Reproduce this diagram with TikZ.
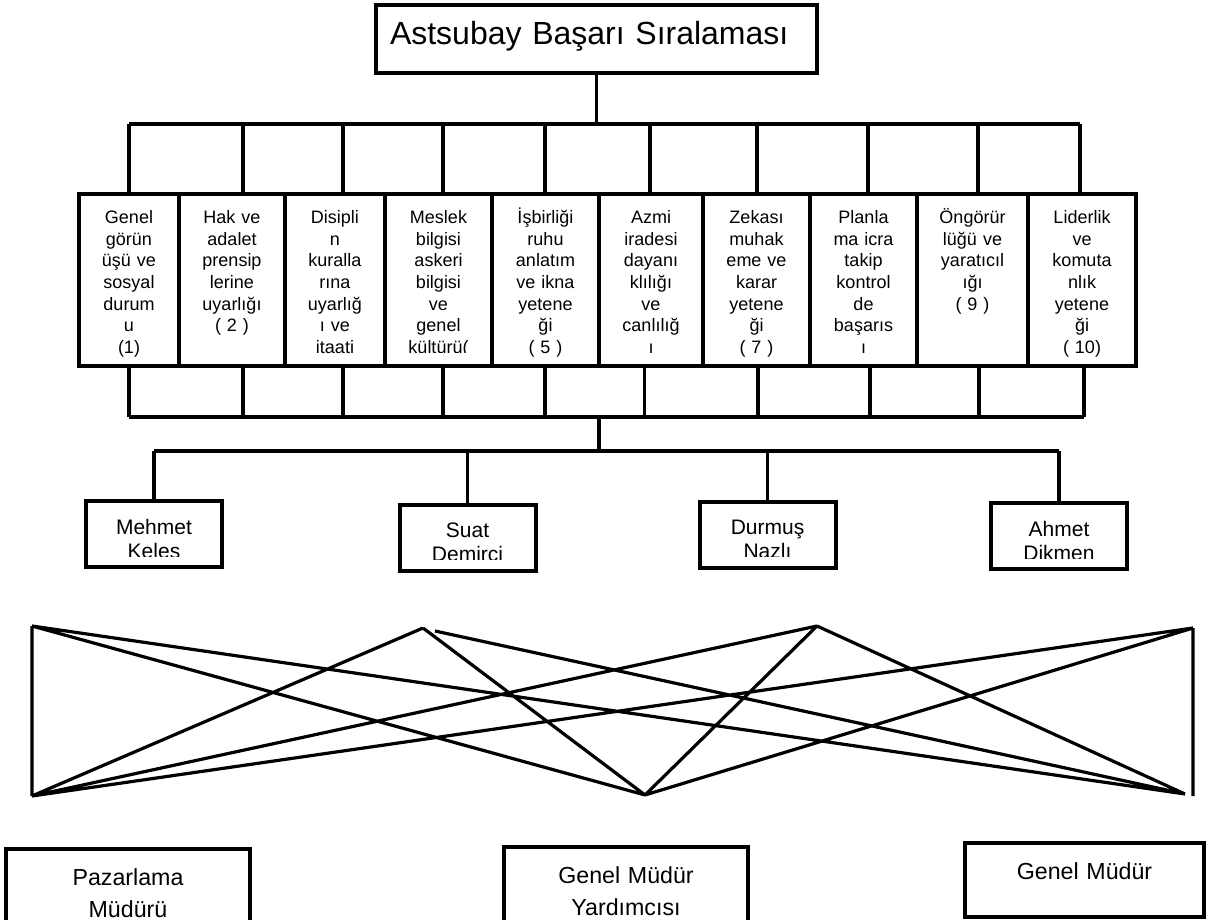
\documentclass[tikz,border=0pt]{standalone}
\usepackage{fontspec}
\setmainfont{Liberation Sans}
\begin{document}
\begin{tikzpicture}[x=0.5pt,y=-0.5pt,line width=1.6pt]
\tikzset{every node/.style={inner sep=0pt},
  crit/.style={align=center,font=\fontsize{9}{10.83}\selectfont,text height=14.75pt,text depth=71.25pt},
  critbox/.style={crit,draw},
  person/.style={align=center,font=\fontsize{10.5}{12}\selectfont,text width=68pt,text height=16.5pt,text depth=16.5pt},
  personbox/.style={person,draw,line width=2pt},
  unit/.style={draw,line width=2pt,align=center,font=\fontsize{11.6}{16}\selectfont,text height=18pt},
  cut/.style n args={3}{path picture={\clip (path picture bounding box.north west) rectangle ([yshift=#1]path picture bounding box.south east);
    \node[#2,draw=none] at (path picture bounding box.center) {#3};}}}
\useasboundingbox (0,0) rectangle (1206,920);
\clip (0,0) rectangle (1206,920);
\node[draw,line width=2pt,align=left,font=\fontsize{16}{19}\selectfont,text width=206.5pt,inner xsep=7pt,text height=20pt,text depth=14pt] (title) at (596.5,39) {Astsubay Başarı Sıralaması};
\node[critbox,text width=50pt] (k1) at (129,280) {Genel\\görün\\üşü ve\\sosyal\\durum\\u\\(1)};
\node[critbox,text width=53pt] (k2) at (232,280) {Hak ve\\adalet\\prensip\\lerine\\uyarlığı\\( 2 )};
\node[critbox,text width=50pt] (k3) at (335,280) {Disipli\\n\\kuralla\\rına\\uyarlığ\\ı ve\\itaati};
\node[critbox,text width=53.5pt,cut={7pt}{crit,text width=53.5pt}{Meslek\\bilgisi\\askeri\\bilgisi\\ve\\genel\\kültürü(}] (k4) at (438.5,280) {};
\node[critbox,text width=53.5pt] (k5) at (545.5,280) {İşbirliği\\ruhu\\anlatım\\ve ikna\\yetene\\ği\\( 5 )};
\node[critbox,text width=52pt] (k6) at (651,280) {Azmi\\iradesi\\dayanı\\klılığı\\ve\\canlılığ\\ı};
\node[critbox,text width=53.5pt] (k7) at (756.5,280) {Zekası\\muhak\\eme ve\\karar\\yetene\\ği\\( 7 )};
\node[critbox,text width=53.5pt] (k8) at (863.5,280) {Planla\\ma icra\\takip\\kontrol\\de\\başarıs\\ı};
\node[critbox,text width=55.5pt] (k9) at (972.5,280) {Öngörür\\lüğü ve\\yaratıcıl\\ığı\\( 9 )};
\node[critbox,text width=54pt] (k10) at (1082,280) {Liderlik\\ve\\komuta\\nlık\\yetene\\ği\\( 10)};
\coordinate (tbar) at (598,124);
\coordinate (bbar) at (599,417);
\coordinate (nbar) at (599,451);
\draw (title.south) -- (title.south |- tbar);
\draw (tbar -| 129,0) -- (tbar -| 1080,0);
\draw (bbar -| 129,0) -- (bbar -| 1084,0);
\foreach \i/\a/\b in {1/129/129,2/243/243,3/343/343,4/443/443,5/545/545,6/650/644.5,7/757/758,8/868/870,9/978/979,10/1080/1084}{
  \draw (k\i.north -| \a,0) -- (tbar -| \a,0);
  \draw (k\i.south -| \b,0) -- (bbar -| \b,0);}
\node[personbox,cut={5.5pt}{person}{Mehmet\\Keles}] (mehmet) at (154,534) {};
\node[personbox,cut={5.5pt}{person}{Suat\\Demirci}] (suat) at (467.5,537.5) {};
\node[personbox,cut={5.5pt}{person}{Durmuş\\Nazlı}] (durmus) at (767.5,534.5) {};
\node[personbox,cut={5.5pt}{person}{Ahmet\\Dikmen}] (ahmet) at (1059,536) {};
\draw (bbar) -- (nbar);
\draw (nbar -| mehmet.north) -- (nbar -| ahmet.north);
\foreach \n in {mehmet,suat,durmus,ahmet}
  \draw (\n.north) -- (\n.north |- nbar);
\coordinate (l1) at (32,626);
\coordinate (l2) at (32,796);
\coordinate (m1) at (423,628);
\coordinate (m2) at (435,631);
\coordinate (m3) at (817,626);
\coordinate (d) at (645,795);
\coordinate (r1) at (1193,628);
\coordinate (r2) at (1193,796);
\coordinate (r3) at (1185,794);
\draw (l1) -- (l2) (l1) -- (r3) (l1) -- (d) (l2) -- (m1) (l2) -- (m3) (l2) -- (r1)
  (m1) -- (d) (m2) -- (r3) (m3) -- (d) (m3) -- (r3) (d) -- (r1) (r1) -- (r2);
\node[unit,text width=122pt,text depth=27pt] (pazarlama) at (128,894) {Pazarlama\\Müdürü};
\node[unit,text width=122pt,text depth=27pt] (yardimci) at (626,892) {Genel Müdür\\Yardımcısı};
\node[unit,text width=119.5pt,text depth=19pt] (mudur) at (1084.5,880) {Genel Müdür};
\end{tikzpicture}
\end{document}
